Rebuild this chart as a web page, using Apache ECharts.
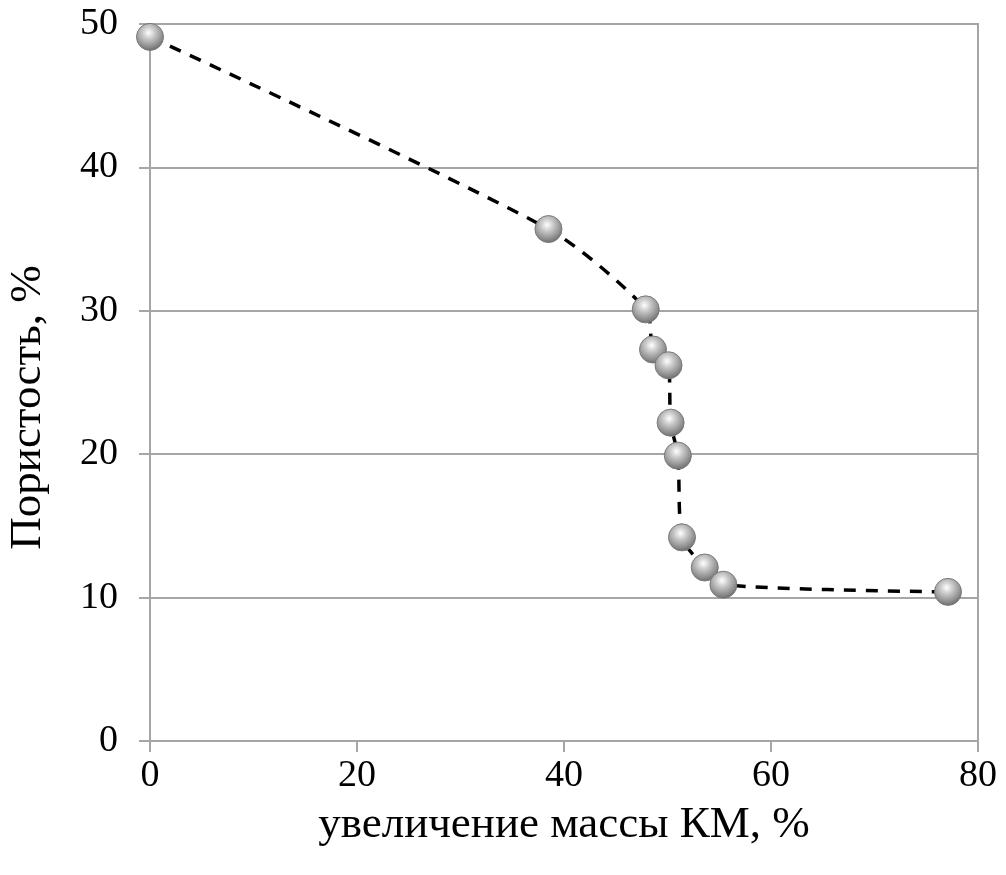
<!DOCTYPE html>
<html>
<head>
<meta charset="utf-8">
<script src="https://cdn.jsdelivr.net/npm/echarts@6/dist/echarts.min.js"></script>
<style>
html,body{margin:0;padding:0;background:#fff;}
#chart{width:1006px;height:875px;}
</style>
</head>
<body>
<div id="chart"></div>
<script>
const xValues = [0, 38.5, 47.9, 48.6, 50.1, 50.3, 51.0, 51.4, 53.6, 55.4, 77.1];
const yValues = [49.1, 35.7, 30.1, 27.3, 26.2, 22.2, 19.9, 14.2, 12.1, 10.9, 10.4];
const xTicks = [0, 20, 40, 60, 80];
const yTicks = [0, 10, 20, 30, 40, 50];
const xTitle = 'увеличение массы КМ, %';
const yTitle = 'Пористость, %';

const points = xValues.map((x, i) => [x, yValues[i]]);
const font = '"Liberation Serif", "Times New Roman", serif';
const chart = echarts.init(document.getElementById('chart'), null, {renderer: 'canvas'});
chart.setOption({
  animation: false,
  backgroundColor: '#fff',
  grid: {left: 150, right: 28, top: 24, bottom: 134, containLabel: false, outerBoundsMode: 'none',
         show: true, borderColor: '#a6a6a6', borderWidth: 2},
  xAxis: {
    type: 'value', min: xTicks[0], max: xTicks[xTicks.length - 1], interval: 20,
    name: xTitle, nameLocation: 'middle', nameGap: 62,
    nameTextStyle: {fontFamily: font, fontSize: 45, color: '#000'},
    axisLine: {show: true, lineStyle: {color: '#a6a6a6', width: 2}},
    axisTick: {show: true, inside: false, length: 11, lineStyle: {color: '#a6a6a6', width: 2}},
    axisLabel: {fontFamily: font, fontSize: 38, color: '#000', margin: 16},
    splitLine: {show: false}
  },
  yAxis: {
    type: 'value', min: yTicks[0], max: yTicks[yTicks.length - 1], interval: 10,
    name: yTitle, nameLocation: 'middle', nameGap: 99, nameRotate: 90,
    nameTextStyle: {fontFamily: font, fontSize: 45, color: '#000', padding: [0, 50, 0, 0]},
    axisLine: {show: true, lineStyle: {color: '#a6a6a6', width: 2}},
    axisTick: {show: true, inside: false, length: 11, lineStyle: {color: '#a6a6a6', width: 2}},
    axisLabel: {fontFamily: font, fontSize: 38, color: '#000', margin: 32},
    splitLine: {show: true, lineStyle: {color: '#a6a6a6', width: 2}}
  },
  series: [{
    type: 'line',
    data: points,
    smooth: 0.25,
    lineStyle: {color: '#000', width: 3.5, type: [12, 10]},
    symbol: 'circle',
    symbolSize: 27,
    itemStyle: {
      color: new echarts.graphic.RadialGradient(0.45, 0.35, 0.65, [
        {offset: 0, color: '#ffffff'},
        {offset: 0.35, color: '#c8c8c8'},
        {offset: 0.8, color: '#8a8a8a'},
        {offset: 1, color: '#6a6a6a'}
      ]),
      borderColor: '#7a7a7a',
      borderWidth: 1
    },
    z: 3
  }]
});
</script>
</body>
</html>
